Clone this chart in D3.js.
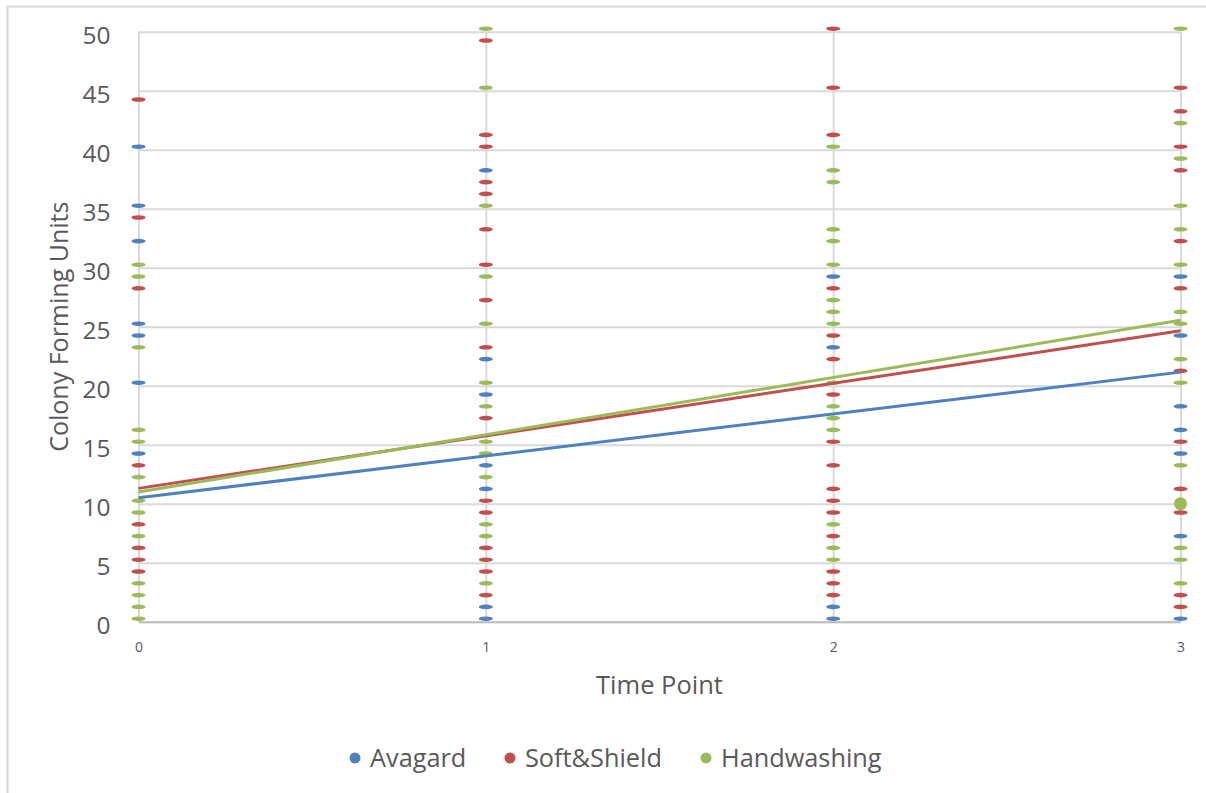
<!DOCTYPE html>
<html>
<head>
<meta charset="utf-8">
<script src="https://cdn.jsdelivr.net/npm/d3@7"></script>
<style>
  html, body { margin: 0; padding: 0; background: #ffffff; }
  svg { display: block; }
  text { font-family: "Open Sans", "Liberation Sans", sans-serif; fill: #595959; }
</style>
</head>
<body>
<svg id="chart" width="1206" height="793"></svg>
<script>
// Time points on the x axis
const timePoints = [0, 1, 2, 3];
const yTicks = [0, 5, 10, 15, 20, 25, 30, 35, 40, 45, 50];
const seriesNames = ["Avagard", "Soft&Shield", "Handwashing"];
const seriesColors = ["#4f81bd", "#c0504d", "#9bbb59"];

// Colony counts per time point, one list per product
const avagard = [
  [40, 35, 32, 25, 24, 20, 14],
  [38, 22, 19, 13, 11, 1, 0],
  [29, 23, 1, 0],
  [29, 24, 18, 16, 14, 7, 0]
];
const softShield = [
  [44, 34, 28, 13, 8, 6, 5, 4],
  [49, 41, 40, 37, 36, 33, 30, 27, 23, 17, 10, 9, 6, 5, 4, 2],
  [50, 45, 41, 28, 24, 22, 19, 15, 13, 11, 10, 9, 7, 4, 3, 2],
  [45, 43, 40, 38, 32, 28, 21, 15, 11, 9, 2, 1]
];
const handwashing = [
  [30, 29, 23, 16, 15, 12, 10, 9, 7, 3, 2, 1, 0],
  [50, 45, 35, 29, 25, 20, 18, 15, 14, 12, 8, 7, 3],
  [40, 38, 37, 33, 32, 30, 27, 26, 25, 20, 18, 17, 16, 8, 6, 5],
  [50, 42, 39, 35, 33, 30, 26, 25, 22, 20, 13, 6, 5, 3]
];

// Linear trend lines (intercept at time 0, slope per time point)
const trendIntercept = [10.5, 11.3, 11.0];
const trendSlope = [3.55, 4.45, 4.85];

// Highlighted point
const highlightSeries = 2;
const highlightPoint = [3, 10];

const allSeries = [avagard, softShield, handwashing];

const svg = d3.select("#chart");

// outer chart border
svg.append("rect")
  .attr("x", 7.5).attr("y", 6.5)
  .attr("width", 1230).attr("height", 820)
  .attr("fill", "none").attr("stroke", "#d9d9d9").attr("stroke-width", 2);

const x = d3.scaleLinear().domain([0, 3]).range([138.5, 1180.5]);
const y = d3.scaleLinear().domain([0, 50]).range([621.7, 31.7]);

// the flattened markers sit a few pixels above their value line
const markerLift = 3;

// horizontal gridlines
svg.append("g")
  .attr("transform", `translate(${x(0)},0)`)
  .call(d3.axisLeft(y).tickValues(yTicks).tickSize(-(x(3) - x(0))).tickFormat(""))
  .call(g => g.select(".domain").remove())
  .call(g => g.selectAll("line").attr("stroke", "#d9d9d9").attr("stroke-width", 2));

// vertical gridlines
svg.append("g")
  .attr("transform", `translate(0,${y(50)})`)
  .call(d3.axisBottom(x).tickValues(timePoints).tickSize(y(0) - y(50)).tickFormat(""))
  .call(g => g.select(".domain").remove())
  .call(g => g.selectAll("line").attr("stroke", "#d9d9d9").attr("stroke-width", 2));

// y tick labels
svg.append("g")
  .attr("transform", `translate(${x(0)},4)`)
  .call(d3.axisLeft(y).tickValues(yTicks).tickSize(0).tickPadding(28))
  .call(g => g.select(".domain").remove())
  .call(g => g.selectAll("text")
    .style("font-size", "24.5px")
    .style("fill", "#595959")
    .attr("font-family", null));

// x axis
svg.append("g")
  .attr("transform", `translate(0,${y(0)})`)
  .call(d3.axisBottom(x).tickValues(timePoints).tickSize(0).tickPadding(20).tickFormat(d3.format("d")))
  .call(g => g.select(".domain").attr("stroke", "#bfbfbf").attr("stroke-width", 2))
  .call(g => g.selectAll("text")
    .style("font-size", "14px")
    .style("fill", "#595959")
    .attr("font-family", null));

// markers
allSeries.forEach((series, si) => {
  const pts = [];
  series.forEach((vals, ti) => vals.forEach(v => pts.push([timePoints[ti], v])));
  svg.append("g").selectAll("ellipse")
    .data(pts)
    .join("ellipse")
    .attr("cx", d => x(d[0]))
    .attr("cy", d => y(d[1]) - markerLift)
    .attr("rx", 7)
    .attr("ry", 2.3)
    .attr("fill", seriesColors[si]);
});

// trend lines
seriesNames.forEach((name, si) => {
  const ends = [0, 3].map(t => [t, trendIntercept[si] + trendSlope[si] * t]);
  svg.append("path")
    .datum(ends)
    .attr("d", d3.line().x(d => x(d[0])).y(d => y(d[1])))
    .attr("fill", "none")
    .attr("stroke", seriesColors[si])
    .attr("stroke-width", 3);
});

// highlighted point
svg.append("circle")
  .attr("cx", x(highlightPoint[0]))
  .attr("cy", y(highlightPoint[1]))
  .attr("r", 6.5)
  .attr("fill", seriesColors[highlightSeries]);

// axis titles
svg.append("text")
  .attr("x", (x(0) + x(3)) / 2)
  .attr("y", 694)
  .attr("text-anchor", "middle")
  .style("font-size", "25.5px")
  .text("Time Point");

svg.append("text")
  .attr("transform", `translate(68,${(y(0) + y(50)) / 2}) rotate(-90)`)
  .attr("text-anchor", "middle")
  .style("font-size", "25px")
  .text("Colony Forming Units");

// legend
const legendX = [355, 510, 706];
const legend = svg.append("g");
seriesNames.forEach((name, si) => {
  legend.append("circle")
    .attr("cx", legendX[si]).attr("cy", 758).attr("r", 5.5)
    .attr("fill", seriesColors[si]);
  legend.append("text")
    .attr("x", legendX[si] + 15).attr("y", 758)
    .attr("dy", "0.35em")
    .style("font-size", "25.3px")
    .text(name);
});
</script>
</body>
</html>
